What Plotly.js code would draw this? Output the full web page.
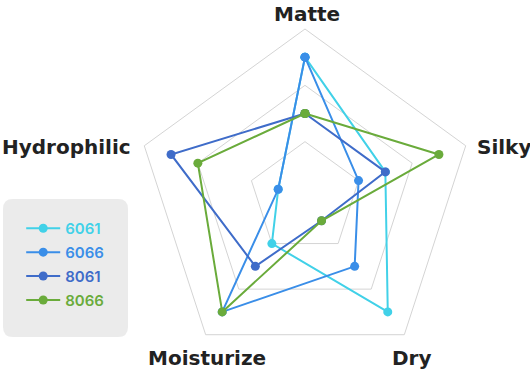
<!DOCTYPE html>
<html>
<head>
<meta charset="utf-8">
<script src="https://cdn.plot.ly/plotly-3.0.1.min.js"></script>
<style>html,body{margin:0;padding:0;background:#fff;}#chart{width:530px;height:374px;}</style>
</head>
<body>
<div id="chart"></div>
<script>
const categories = ["Matte", "Silky", "Dry", "Moisturize", "Hydrophilic"];
const seriesNames = ["6061", "6066", "8061", "8066"];
const values6061 = [5, 3, 5, 2, 1];
const values6066 = [5, 2, 3, 5, 1];
const values8061 = [3, 3, 1, 3, 5];
const values8066 = [3, 5, 1, 5, 4];
const seriesValues = [values6061, values6066, values8061, values8066];
const colors = ["#41d1e8", "#3a8ee8", "#3f6cc9", "#6aab3b"];
const radialTicks = [0, 2, 4, 6];

const W = 530, H = 374;

const traces = seriesNames.map((name, i) => ({
  type: "scatterpolar",
  mode: "lines+markers",
  name: '<span style="color:' + colors[i] + '">' + name + '</span>',
  legendgroup: "g" + i,
  r: seriesValues[i].concat([seriesValues[i][0]]),
  theta: categories.concat([categories[0]]),
  line: {color: colors[i], width: 2},
  marker: {color: colors[i], size: 9},
  hoverinfo: "skip"
}));

// label placement (pixel anchors) for the category labels
const labelPos = [
  {x: 307, y: 14, xa: "center"},
  {x: 475, y: 147, xa: "left"},
  {x: 412, y: 358, xa: "center"},
  {x: 207, y: 358, xa: "center"},
  {x: 133, y: 147, xa: "right"}
];

const annotations = categories.map((c, i) => ({
  text: c, xref: "paper", yref: "paper",
  x: labelPos[i].x / W, y: 1 - labelPos[i].y / H,
  xanchor: labelPos[i].xa, yanchor: "middle", showarrow: false,
  font: {size: 20, color: "#222222", family: "DejaVu Sans, sans-serif", weight: 700}
}));

const layout = {
  width: W, height: H,
  margin: {l: 0, r: 0, t: 0, b: 0},
  paper_bgcolor: "#ffffff",
  plot_bgcolor: "#ffffff",
  font: {family: "Inter, 'Noto Sans', sans-serif", color: "#222222"},
  showlegend: true,
  annotations: annotations,
  polar: {
    domain: {x: [0.2566, 0.8943], y: [0.0187, 0.9225]},
    bgcolor: "#ffffff",
    gridshape: "linear",
    radialaxis: {
      range: [0, 6], tickvals: radialTicks, showticklabels: false, ticks: "",
      showline: false, gridcolor: "#d4d4d4", gridwidth: 1
    },
    angularaxis: {
      direction: "clockwise", rotation: 90, showgrid: false,
      showline: true, linecolor: "#d4d4d4", linewidth: 1, ticks: "",
      showticklabels: false
    }
  },
  legend: {
    x: 0.04, y: 1 - 212 / H, xanchor: "left", yanchor: "top",
    bgcolor: "rgba(0,0,0,0)",
    traceorder: "grouped",
    tracegroupgap: 1.4,
    font: {size: 15, family: "Inter, sans-serif", weight: 600},
    itemwidth: 34
  }
};

(function () {
  const x0 = 3, x1 = 128, y0 = 199, y1 = 337, rad = 10;
  const px = x => (x / W).toFixed(4);
  const py = y => (1 - y / H).toFixed(4);
  const p = "M " + px(x0 + rad) + " " + py(y0) +
    " L " + px(x1 - rad) + " " + py(y0) +
    " Q " + px(x1) + " " + py(y0) + " " + px(x1) + " " + py(y0 + rad) +
    " L " + px(x1) + " " + py(y1 - rad) +
    " Q " + px(x1) + " " + py(y1) + " " + px(x1 - rad) + " " + py(y1) +
    " L " + px(x0 + rad) + " " + py(y1) +
    " Q " + px(x0) + " " + py(y1) + " " + px(x0) + " " + py(y1 - rad) +
    " L " + px(x0) + " " + py(y0 + rad) +
    " Q " + px(x0) + " " + py(y0) + " " + px(x0 + rad) + " " + py(y0) + " Z";
  layout.shapes = [{type: "path", xref: "paper", yref: "paper", layer: "below",
    path: p, fillcolor: "#ebebeb", line: {width: 0}}];
})();

Plotly.newPlot("chart", traces, layout, {displayModeBar: false, staticPlot: true});
</script>
</body>
</html>
